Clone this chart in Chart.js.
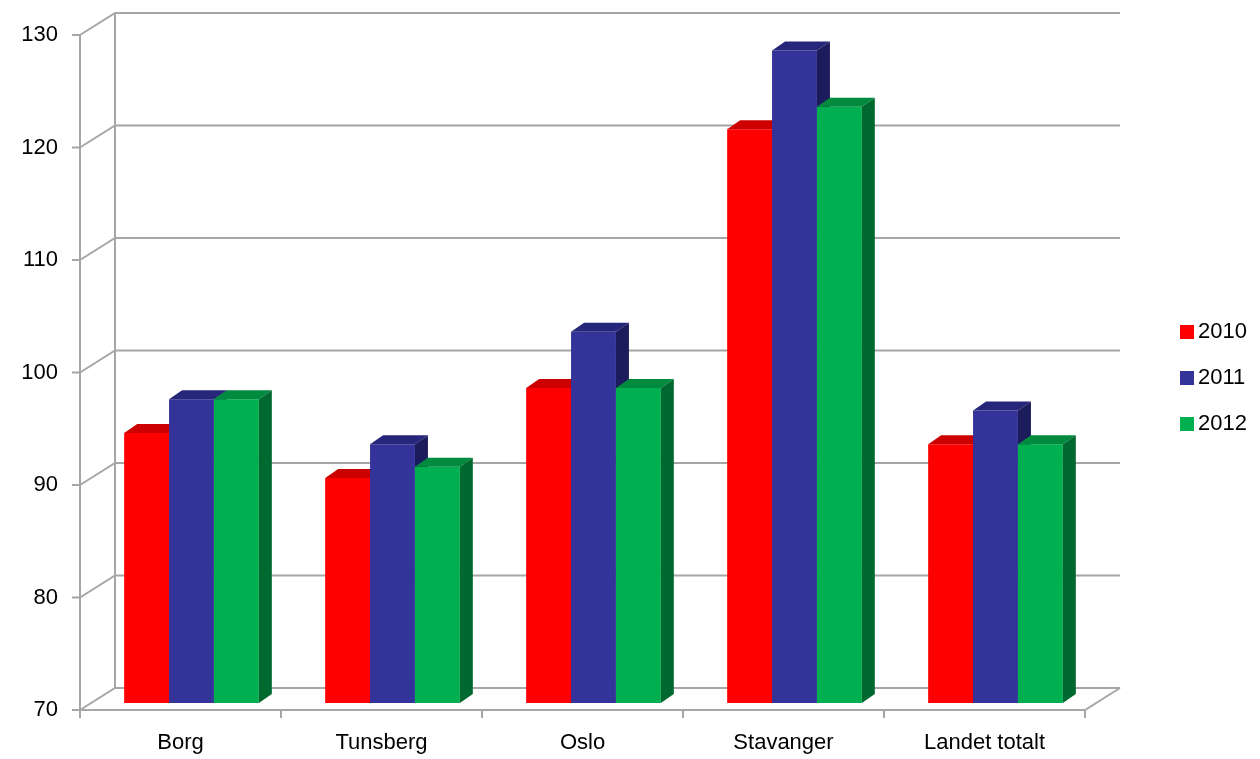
<!DOCTYPE html>
<html><head><meta charset="utf-8">
<script src="https://cdn.jsdelivr.net/npm/chart.js@4/dist/chart.umd.min.js"></script>
<style>html,body{margin:0;background:#fff}#w{width:1260px;height:759px}</style>
</head><body><div id="w"><canvas id="c"></canvas></div>
<script>
const categories = ["Borg","Tunsberg","Oslo","Stavanger","Landet totalt"];
const seriesNames = ["2010","2011","2012"];
const v2010 = [94,90,98,121,93];
const v2011 = [97,93,103,128,96];
const v2012 = [97,91,98,123,93];
const yTicks = [70,80,90,100,110,120,130];

const fronts=["#FF0000","#333399","#00B050"];
const tops=["#CC0000","#26267A","#008A3E"];
const sides=["#A00000","#1C1C5C","#00692F"];
const WX=35, WY=-22;   // back wall offset
const BX=11, BY=-7;    // bar set-back
const DX=13, DY=-9;    // bar depth

const wall={id:'wall',beforeDatasetsDraw(ch){
  const c=ch.ctx,y=ch.scales.y,a=ch.chartArea;
  c.save();c.strokeStyle="#A6A6A6";c.lineWidth=2;
  yTicks.forEach(t=>{const p=y.getPixelForValue(t);
    c.beginPath();c.moveTo(a.left,p);c.lineTo(a.left+WX,p+WY);c.lineTo(a.right+WX,p+WY);c.stroke();
    c.beginPath();c.moveTo(a.left-8,p);c.lineTo(a.left,p);c.stroke();});
  const b=y.getPixelForValue(70),t=y.getPixelForValue(130);
  c.beginPath();c.moveTo(a.left,t);c.lineTo(a.left,b);c.lineTo(a.right,b);c.lineTo(a.right+WX,b+WY);c.stroke();
  c.beginPath();c.moveTo(a.left+WX,t+WY);c.lineTo(a.left+WX,b+WY);c.stroke();
  for(let i=0;i<=categories.length;i++){const px=a.left+(a.right-a.left)*i/categories.length;
    c.beginPath();c.moveTo(px,b);c.lineTo(px,b+8);c.stroke();}
  c.restore();
}, afterDatasetsDraw(ch){
  const c=ch.ctx,y=ch.scales.y;
  const base=y.getPixelForValue(70);
  c.save();c.translate(BX,BY);
  const metas=ch.data.datasets.map((d,i)=>ch.getDatasetMeta(i).data);
  for(let k=0;k<categories.length;k++){
    for(let di=0;di<metas.length;di++){
      const el=metas[di][k];
      const l=el.x-el.width/2,r=el.x+el.width/2,t=el.y,b=base;
      c.fillStyle=fronts[di];c.fillRect(l,t,r-l,b-t);
      c.fillStyle=tops[di];c.beginPath();c.moveTo(l,t);c.lineTo(l+DX,t+DY);c.lineTo(r+DX,t+DY);c.lineTo(r,t);c.closePath();c.fill();
      c.fillStyle=sides[di];c.beginPath();c.moveTo(r,t);c.lineTo(r+DX,t+DY);c.lineTo(r+DX,b+DY);c.lineTo(r,b);c.closePath();c.fill();
    }
  }
  c.restore();
  c.save();c.font="22px 'Liberation Sans', Arial";c.textBaseline="middle";
  seriesNames.forEach((n,i)=>{const yy=332+i*46;c.fillStyle=fronts[i];c.fillRect(1180,yy-7,14,14);c.fillStyle="#000";c.fillText(n,1198,yy);});
  c.restore();
}};

new Chart(document.getElementById('c'),{type:'bar',
 data:{labels:categories,datasets:[
  {label:seriesNames[0],data:v2010,backgroundColor:"rgba(0,0,0,0)"},
  {label:seriesNames[1],data:v2011,backgroundColor:"rgba(0,0,0,0)"},
  {label:seriesNames[2],data:v2012,backgroundColor:"rgba(0,0,0,0)"}]},
 options:{responsive:true,maintainAspectRatio:false,animation:false,
  layout:{padding:{top:35,right:175,left:0,bottom:0}},
  datasets:{bar:{categoryPercentage:0.67,barPercentage:1}},
  plugins:{legend:{display:false},tooltip:{enabled:false}},
  scales:{
   x:{grid:{display:false},border:{display:false},ticks:{color:"#000",font:{size:22,family:"'Liberation Sans', Arial"},padding:12},
      afterFit(s){s.height=49;}},
   y:{min:70,max:130,grid:{display:false},border:{display:false},
      afterBuildTicks(s){s.ticks=yTicks.map(v=>({value:v}));},
      ticks:{color:"#000",font:{size:22,family:"'Liberation Sans', Arial"},padding:14},
      afterFit(s){s.width=80;}}}},
 plugins:[wall]});
</script></body></html>
